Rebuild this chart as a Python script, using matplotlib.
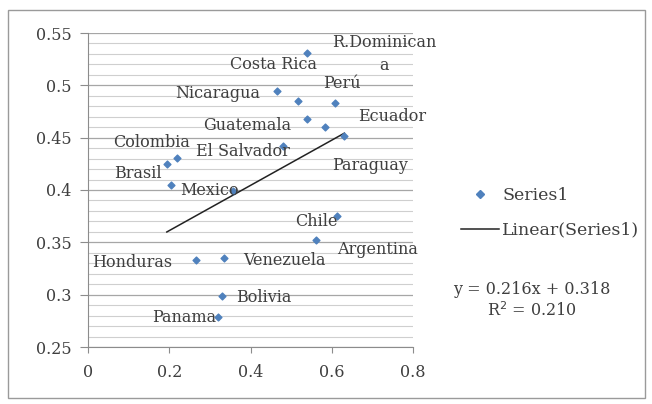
import matplotlib
matplotlib.use("Agg")
import matplotlib.pyplot as plt
from matplotlib.ticker import MultipleLocator
from matplotlib.lines import Line2D
from matplotlib.patches import Rectangle

# datos
countries = ["Costa Rica", "Nicaragua", "R.Dominican\na", "Perú", "Guatemala",
             "Ecuador", "Paraguay", "Colombia", "Brasil", "Mexico", "El Salvador",
             "", "Chile", "Argentina", "Honduras", "Venezuela", "Bolivia", "Panama"]
x_vals = [0.540, 0.466, 0.518, 0.609, 0.540, 0.584, 0.631, 0.218, 0.194, 0.204,
          0.481, 0.358, 0.613, 0.562, 0.265, 0.334, 0.331, 0.319]
y_vals = [0.531, 0.495, 0.485, 0.483, 0.468, 0.460, 0.452, 0.431, 0.425, 0.405,
          0.442, 0.399, 0.375, 0.352, 0.333, 0.335, 0.299, 0.279]
slope, intercept, r2 = 0.216, 0.318, 0.210

# desplazamiento de cada etiqueta (pixeles)
label_off = [(-34, -12), (-60, -3), (86, 47), (7, 20), (-60, -7), (67, 11), (26, -30),
             (-25, 15), (-29, -10), (39, -6), (-40, -5), (0, 0), (-21, -5), (61, -9),
             (-63, -2), (61, -2), (41, -2), (-33, -1)]

txt = "#3f3f3f"
blue = "#4F81BD"
plt.rcParams['font.family'] = ['DejaVu Serif']

fig = plt.figure(figsize=(6.52, 4.04), dpi=100)
fig.patches.append(Rectangle((8/652, 6/404), 637/652, 388/404, transform=fig.transFigure,
                             fill=False, edgecolor="#9a9a9a", lw=1))
ax = fig.add_axes([88/652, 57/404, 325/652, 314/404])

ax.scatter(x_vals, y_vals, marker="D", s=12, color=blue, zorder=3)
xl = [min(x_vals), max(x_vals)]
ax.plot(xl, [slope*v + intercept for v in xl], color="#222222", lw=1.1, zorder=2)

for name, xv, yv, off in zip(countries, x_vals, y_vals, label_off):
    if name:
        ax.annotate(name, (xv, yv), xytext=off, textcoords="offset pixels",
                    ha="center", va="center", fontsize=11.5, color=txt,
                    multialignment="center", linespacing=1.45, zorder=4)

ax.set_xlim(0, 0.8)
ax.set_ylim(0.25, 0.55)
ax.set_xticks([0, 0.2, 0.4, 0.6, 0.8])
ax.set_xticklabels(["0", "0.2", "0.4", "0.6", "0.8"])
ax.yaxis.set_major_locator(MultipleLocator(0.05))
ax.yaxis.set_minor_locator(MultipleLocator(0.01))
ax.yaxis.set_major_formatter(plt.FuncFormatter(lambda v, p: f"{v:.2f}".rstrip("0")))
ax.grid(axis="y", which="major", color="#a6a6a6", lw=0.9)
ax.grid(axis="y", which="minor", color="#cfcfcf", lw=0.8)
ax.set_axisbelow(True)
for s in ["top", "right"]:
    ax.spines[s].set_visible(False)
for s in ["left", "bottom"]:
    ax.spines[s].set_color("#8c8c8c")
ax.tick_params(axis="y", which="major", length=6, color="#8c8c8c", labelsize=11.5,
               labelcolor=txt, pad=6)
ax.tick_params(axis="y", which="minor", length=0)
ax.tick_params(axis="x", length=4, color="#8c8c8c", labelsize=11.5, labelcolor=txt, pad=8)

# leyenda y ecuacion
handles = [Line2D([], [], marker="D", color=blue, ls="none", markersize=4),
           Line2D([], [], color="#222222", lw=1.1)]
fig.legend(handles, ["Series1", "Linear(Series1)"], loc="center left",
           bbox_to_anchor=(445/652, 1 - 213/404), frameon=False, fontsize=12.5,
           labelcolor=txt, handlelength=2.2, handletextpad=0.2, labelspacing=1.0)
fig.text(532/652, 1 - 289/404, "y = 0.216x + 0.318", ha="center", va="center",
         fontsize=11.5, color=txt)
fig.text(532/652, 1 - 311/404, "R$^2$ = 0.210", ha="center", va="center",
         fontsize=11.5, color=txt)

fig.savefig("out.png", dpi=100)
